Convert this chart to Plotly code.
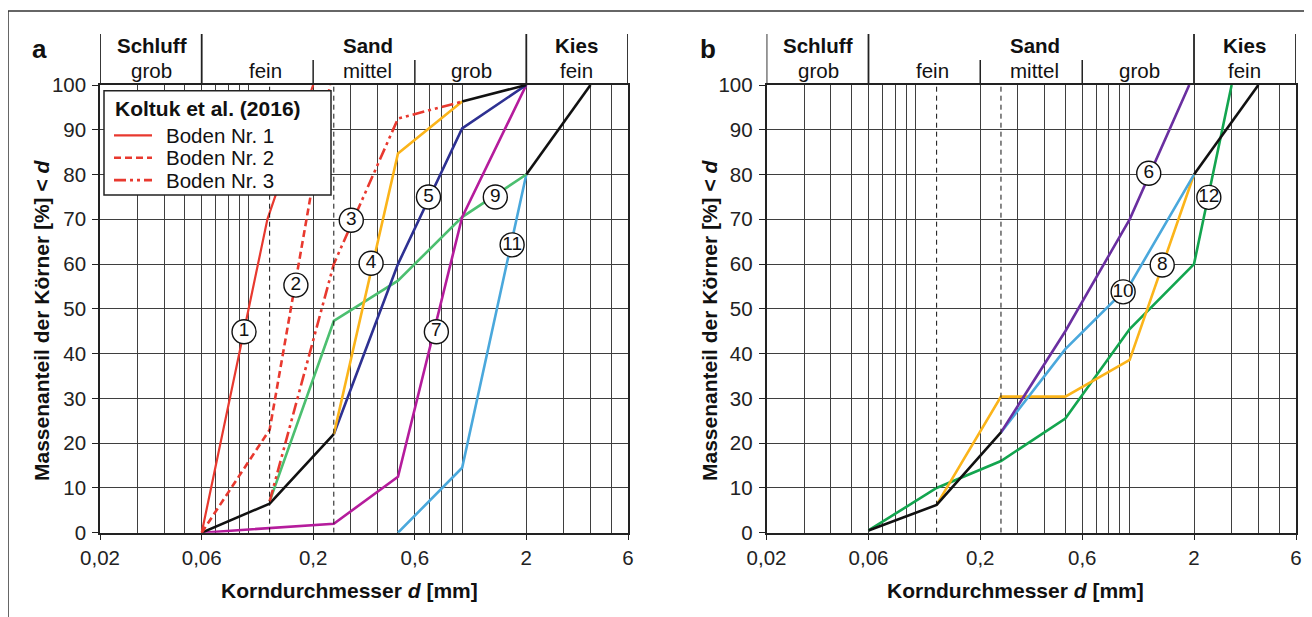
import math
import plotly.graph_objects as go

# ---------------- data ----------------
# panel a (grain-size curves, d in mm, passing in %)
a_black1_d = [0.06, 0.125, 0.25]; a_black1_p = [0, 6.5, 22]
a_black2_d = [1.0, 2.0];          a_black2_p = [96.3, 100]
a_black3_d = [2.0, 4.0];          a_black3_p = [80, 100]
c1_d = [0.06, 0.122, 0.2];        c1_p = [0, 70, 100]
c2_d = [0.06, 0.125, 0.24];       c2_p = [0, 23, 100]
c3_d = [0.125, 0.25, 0.5, 1.0];   c3_p = [7, 60, 92.5, 96.3]
c4_d = [0.25, 0.5, 1.0];          c4_p = [22, 84.7, 96.3]
c5_d = [0.25, 0.5, 1.0, 2.0];     c5_p = [22, 60, 90.3, 100]
c7_d = [0.06, 0.25, 0.5, 1.0, 2.0]; c7_p = [0, 2, 12.5, 70.5, 100]
c9_d = [0.125, 0.25, 0.5, 1.0, 2.0]; c9_p = [7, 47.3, 56.3, 70.5, 80]
c11_d = [0.5, 1.0, 2.0];          c11_p = [0, 14.5, 80]

# panel b
b_black1_d = [0.06, 0.125, 0.25]; b_black1_p = [0.5, 6.2, 22.4]
b_black2_d = [2.0, 4.0];          b_black2_p = [80, 100]
c6_d = [0.25, 0.5, 1.0, 1.9];     c6_p = [22.4, 45, 70, 100]
c10_d = [0.25, 0.5, 1.0, 2.0];    c10_p = [22.4, 41, 55.3, 80]
c8_d = [0.125, 0.25, 0.5, 1.0, 2.0]; c8_p = [6.2, 30.4, 30.4, 38.6, 80]
c12_d = [0.06, 0.125, 0.25, 0.5, 1.0, 2.0, 3.0]; c12_p = [0.5, 10, 16, 25.5, 45.5, 60, 100]

# circled curve numbers
lab_a_txt = ["1", "2", "3", "4", "5", "7", "9", "11"]
lab_a_d = [0.0948, 0.166, 0.302, 0.374, 0.695, 0.757, 1.431, 1.716]
lab_a_p = [44.9, 55.3, 69.8, 60.2, 75.0, 44.9, 75.0, 64.3]
lab_b_txt = ["6", "12", "8", "10"]
lab_b_d = [1.228, 2.346, 1.42, 0.932]
lab_b_p = [80.3, 74.9, 59.8, 53.8]

# axis ticks
major_vals = [0.02, 0.06, 0.2, 0.6, 2, 6]
major_txt = ["0,02", "0,06", "0,2", "0,6", "2", "6"]
minor_vals = [0.03, 0.04, 0.05, 0.07, 0.08, 0.09, 0.1, 0.3, 0.4, 0.5,
              0.7, 0.8, 0.9, 1.0, 3, 4, 5]
dashed_vals = [0.125, 0.25]
y_vals = list(range(0, 101, 10))

# soil class header
tall_bounds = [0.02, 0.06, 2, 6]
short_bounds = [0.2, 0.6]
main_labels = ["Schluff", "Sand", "Kies"]
main_label_d = [0.035, 0.36, 3.43]
sub_labels = ["grob", "fein", "mittel", "grob", "fein"]
sub_label_d = [0.035, 0.119, 0.36, 1.11, 3.43]

# legend entries
legend_title = "Koltuk et al. (2016)"
legend_names = ["Boden Nr. 1", "Boden Nr. 2", "Boden Nr. 3"]

# ---------------- style ----------------
OFF = 8                      # page body margin
W, H = 1312 - OFF, 617 - OFF
FONT = "Liberation Sans, Arial, sans-serif"
GRID = "#3f3f3f"
RED = "#e8392f"
BLACK = "#111111"
YELLOW = "#fbb41a"
DBLUE = "#2e3192"
MAGENTA = "#b51c9c"
GREEN_A = "#4cbf70"
LBLUE = "#4aa8dc"
PURPLE = "#6a2fa0"
GREEN_B = "#13a54f"
LW = 2.6
RED_DASH = ["solid", "7px,4px", "12px,4px,3px,4px,3px,4px"]
RED_W = [2.2, LW, LW]


def py(px_from_top):
    return (H - (px_from_top - OFF)) / H


def pxx(px):
    return (px - OFF) / W


dom_a = [pxx(100), pxx(628)]
dom_b = [pxx(766.5), pxx(1296)]
dom_y = [py(532.7), py(85)]

fig = go.Figure()


def line(d, p, color, xa, ya, name=None, dash="solid", width=LW):
    fig.add_trace(go.Scatter(
        x=d, y=p, mode="lines", xaxis=xa, yaxis=ya,
        line=dict(color=color, width=width, dash=dash),
        name=name, showlegend=False, hoverinfo="skip"))


# panel a
line(c11_d, c11_p, LBLUE, "x", "y")
line(c9_d, c9_p, GREEN_A, "x", "y")
line(c7_d, c7_p, MAGENTA, "x", "y")
line(c5_d, c5_p, DBLUE, "x", "y")
line(c4_d, c4_p, YELLOW, "x", "y")
line(a_black1_d, a_black1_p, BLACK, "x", "y")
line(a_black2_d, a_black2_p, BLACK, "x", "y")
line(a_black3_d, a_black3_p, BLACK, "x", "y")
line(c1_d, c1_p, RED, "x", "y", name=legend_names[0], dash=RED_DASH[0], width=RED_W[0])
line(c2_d, c2_p, RED, "x", "y", name=legend_names[1], dash=RED_DASH[1], width=RED_W[1])
line(c3_d, c3_p, RED, "x", "y", name=legend_names[2], dash=RED_DASH[2], width=RED_W[2])

# panel b
line(c12_d, c12_p, GREEN_B, "x2", "y2")
line(c8_d, c8_p, YELLOW, "x2", "y2")
line(c10_d, c10_p, LBLUE, "x2", "y2")
line(c6_d, c6_p, PURPLE, "x2", "y2")
line(b_black1_d, b_black1_p, BLACK, "x2", "y2")
line(b_black2_d, b_black2_p, BLACK, "x2", "y2")

for xs, ys, ts, xa, ya in [(lab_a_d, lab_a_p, lab_a_txt, "x", "y"),
                           (lab_b_d, lab_b_p, lab_b_txt, "x2", "y2")]:
    fig.add_trace(go.Scatter(
        x=xs, y=ys, text=ts, mode="markers+text", xaxis=xa, yaxis=ya,
        marker=dict(size=24, color="white", line=dict(color="#111", width=1.4)),
        textposition="middle center",
        textfont=dict(family=FONT, size=19, color="#111"),
        showlegend=False, hoverinfo="skip"))


def xaxis(domain, anchor):
    return dict(
        type="log", range=[math.log10(0.02), math.log10(6)], domain=domain,
        anchor=anchor, tickmode="array", tickvals=major_vals, ticktext=major_txt,
        ticks="outside", ticklen=6, tickwidth=1.3, tickcolor="#222",
        ticklabelstandoff=0, automargin=False,
        showgrid=True, gridcolor=GRID, gridwidth=1.2,
        minor=dict(tickmode="array", tickvals=minor_vals, showgrid=True,
                   gridcolor=GRID, gridwidth=1.2, ticks=""),
        showline=True, linecolor="#222", linewidth=1.5, mirror=True,
        zeroline=False, fixedrange=True,
        tickfont=dict(family=FONT, size=20.5, color="#222"))


def yaxis(anchor):
    return dict(
        range=[0, 100], domain=dom_y, anchor=anchor, tickmode="array",
        tickvals=y_vals, ticks="outside", ticklen=6, tickwidth=1.3,
        tickcolor="#222", ticklabelstandoff=2, automargin=False,
        showgrid=True, gridcolor=GRID, gridwidth=1.2,
        showline=True, linecolor="#222", linewidth=1.5, mirror=True,
        zeroline=False, fixedrange=True,
        tickfont=dict(family=FONT, size=20.5, color="#222"))


shapes = []
annotations = []
for xr, ya, dom in [("x", "y", dom_a), ("x2", "y2", dom_b)]:
    for d in dashed_vals:
        shapes.append(dict(type="line", xref=xr, yref=ya, x0=d, x1=d, y0=0, y1=100,
                           line=dict(color="#111", width=1, dash="5px,4px")))
    for d in tall_bounds:
        shapes.append(dict(type="line", xref=xr, yref="paper", x0=d, x1=d,
                           y0=dom_y[1], y1=py(34), line=dict(color="#222", width=1.8)))
    for d in short_bounds:
        shapes.append(dict(type="line", xref=xr, yref="paper", x0=d, x1=d,
                           y0=dom_y[1], y1=py(60), line=dict(color="#222", width=1.5)))
    for t, d in zip(main_labels, main_label_d):
        annotations.append(dict(text="<b>" + t + "</b>", xref=xr, yref="paper",
                                x=math.log10(d), y=py(45), showarrow=False,
                                xanchor="center", yanchor="middle",
                                font=dict(family=FONT, size=20.5, color="#111")))
    for t, d in zip(sub_labels, sub_label_d):
        annotations.append(dict(text=t, xref=xr, yref="paper",
                                x=math.log10(d), y=py(70.5), showarrow=False,
                                xanchor="center", yanchor="middle",
                                font=dict(family=FONT, size=20.5, color="#111")))

# figure frame (top & left edges)
shapes.append(dict(type="line", xref="paper", yref="paper", x0=pxx(8), x1=1,
                   y0=py(11), y1=py(11), line=dict(color="#333", width=1.5)))
shapes.append(dict(type="line", xref="paper", yref="paper", x0=pxx(8), x1=pxx(8),
                   y0=0, y1=py(11), line=dict(color="#333", width=1.5)))

# legend box (Koltuk et al. 2016)
shapes.append(dict(type="rect", xref="paper", yref="paper",
                   x0=pxx(104), x1=pxx(331), y0=py(195), y1=py(90.7),
                   fillcolor="white", line=dict(color="#222", width=1.5), layer="above"))
annotations.append(dict(text="<b>" + legend_title + "</b>", xref="paper", yref="paper",
                        x=pxx(113), y=py(108.5), showarrow=False,
                        xanchor="left", yanchor="middle",
                        font=dict(family=FONT, size=21, color="#111")))
for i, nm in enumerate(legend_names):
    yy = 135.3 + i * 22.4
    shapes.append(dict(type="line", xref="paper", yref="paper",
                       x0=pxx(114), x1=pxx(152), y0=py(yy), y1=py(yy), layer="above",
                       line=dict(color=RED, width=RED_W[i], dash=RED_DASH[i])))
    annotations.append(dict(text=nm, xref="paper", yref="paper",
                            x=pxx(164), y=py(yy), showarrow=False,
                            xanchor="left", yanchor="middle",
                            font=dict(family=FONT, size=20.5, color="#111")))

for lab, xc, ytc, xt in [("a", 39, 41, 349), ("b", 708, 709, 1015.5)]:
    annotations.append(dict(text="<b>" + lab + "</b>", xref="paper", yref="paper",
                            x=pxx(xc), y=py(49), showarrow=False,
                            xanchor="center", yanchor="middle",
                            font=dict(family=FONT, size=26, color="#111")))
    annotations.append(dict(text="<b>Massenanteil der Körner [%] &lt; <i>d</i></b>",
                            xref="paper", yref="paper", x=pxx(ytc), y=py(320),
                            textangle=-90, showarrow=False,
                            xanchor="center", yanchor="middle",
                            font=dict(family=FONT, size=21, color="#111")))
    annotations.append(dict(text="<b>Korndurchmesser <i>d</i> [mm]</b>",
                            xref="paper", yref="paper", x=pxx(xt), y=py(590),
                            showarrow=False, xanchor="center", yanchor="middle",
                            font=dict(family=FONT, size=21, color="#111")))

fig.update_layout(
    width=W, height=H, margin=dict(l=0, r=0, t=0, b=0, pad=0, autoexpand=False),
    paper_bgcolor="white", plot_bgcolor="white",
    xaxis=xaxis(dom_a, "y"), yaxis=yaxis("x"),
    xaxis2=xaxis(dom_b, "y2"), yaxis2=yaxis("x2"),
    shapes=shapes, annotations=annotations,
    showlegend=False,
)

fig.write_html("out.html")
